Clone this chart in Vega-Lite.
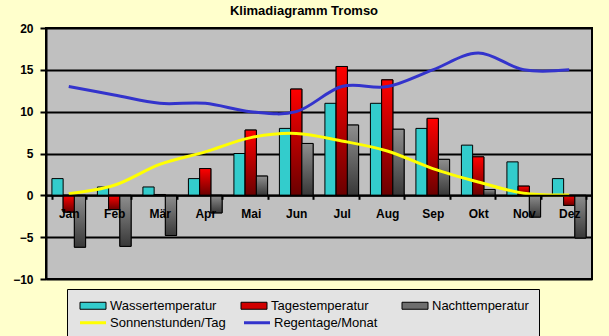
{
  "$schema": "https://vega.github.io/schema/vega-lite/v6.json",
  "width": 546,
  "height": 251,
  "autosize": "none",
  "padding": {"left": 46, "top": 28, "right": 17, "bottom": 57},
  "background": "#FFFFCC",
  "title": {"text": "Klimadiagramm Tromso", "font": "Liberation Sans", "fontSize": 13, "fontWeight": "bold", "color": "black", "anchor": "middle", "frame": "group", "offset": 4, "dx": -15},
  "config": {
    "view": {"fill": "#C0C0C0", "stroke": "black", "strokeWidth": 2}
  },
  "data": {"values": [
    {"month": "Jan", "series": "Wassertemperatur", "value": 2},
    {"month": "Feb", "series": "Wassertemperatur", "value": 1},
    {"month": "Mär", "series": "Wassertemperatur", "value": 1},
    {"month": "Apr", "series": "Wassertemperatur", "value": 2},
    {"month": "Mai", "series": "Wassertemperatur", "value": 5},
    {"month": "Jun", "series": "Wassertemperatur", "value": 8},
    {"month": "Jul", "series": "Wassertemperatur", "value": 11},
    {"month": "Aug", "series": "Wassertemperatur", "value": 11},
    {"month": "Sep", "series": "Wassertemperatur", "value": 8},
    {"month": "Okt", "series": "Wassertemperatur", "value": 6},
    {"month": "Nov", "series": "Wassertemperatur", "value": 4},
    {"month": "Dez", "series": "Wassertemperatur", "value": 2},
    {"month": "Jan", "series": "Tagestemperatur", "value": -2},
    {"month": "Feb", "series": "Tagestemperatur", "value": -1.7},
    {"month": "Mär", "series": "Tagestemperatur", "value": 0.1},
    {"month": "Apr", "series": "Tagestemperatur", "value": 3.2},
    {"month": "Mai", "series": "Tagestemperatur", "value": 7.8},
    {"month": "Jun", "series": "Tagestemperatur", "value": 12.7},
    {"month": "Jul", "series": "Tagestemperatur", "value": 15.4},
    {"month": "Aug", "series": "Tagestemperatur", "value": 13.8},
    {"month": "Sep", "series": "Tagestemperatur", "value": 9.2},
    {"month": "Okt", "series": "Tagestemperatur", "value": 4.6},
    {"month": "Nov", "series": "Tagestemperatur", "value": 1.1},
    {"month": "Dez", "series": "Tagestemperatur", "value": -1.2},
    {"month": "Jan", "series": "Nachttemperatur", "value": -6.2},
    {"month": "Feb", "series": "Nachttemperatur", "value": -6.1},
    {"month": "Mär", "series": "Nachttemperatur", "value": -4.8},
    {"month": "Apr", "series": "Nachttemperatur", "value": -2.1},
    {"month": "Mai", "series": "Nachttemperatur", "value": 2.3},
    {"month": "Jun", "series": "Nachttemperatur", "value": 6.2},
    {"month": "Jul", "series": "Nachttemperatur", "value": 8.4},
    {"month": "Aug", "series": "Nachttemperatur", "value": 7.9},
    {"month": "Sep", "series": "Nachttemperatur", "value": 4.3},
    {"month": "Okt", "series": "Nachttemperatur", "value": 0.7},
    {"month": "Nov", "series": "Nachttemperatur", "value": -2.6},
    {"month": "Dez", "series": "Nachttemperatur", "value": -5.1},
    {"month": "Jan", "series": "Sonnenstunden/Tag", "value": 0.2},
    {"month": "Feb", "series": "Sonnenstunden/Tag", "value": 1.2},
    {"month": "Mär", "series": "Sonnenstunden/Tag", "value": 3.7},
    {"month": "Apr", "series": "Sonnenstunden/Tag", "value": 5.2},
    {"month": "Mai", "series": "Sonnenstunden/Tag", "value": 6.9},
    {"month": "Jun", "series": "Sonnenstunden/Tag", "value": 7.4},
    {"month": "Jul", "series": "Sonnenstunden/Tag", "value": 6.5},
    {"month": "Aug", "series": "Sonnenstunden/Tag", "value": 5.3},
    {"month": "Sep", "series": "Sonnenstunden/Tag", "value": 3.2},
    {"month": "Okt", "series": "Sonnenstunden/Tag", "value": 1.6},
    {"month": "Nov", "series": "Sonnenstunden/Tag", "value": 0.25},
    {"month": "Dez", "series": "Sonnenstunden/Tag", "value": 0.05},
    {"month": "Jan", "series": "Regentage/Monat", "value": 13},
    {"month": "Feb", "series": "Regentage/Monat", "value": 12},
    {"month": "Mär", "series": "Regentage/Monat", "value": 11},
    {"month": "Apr", "series": "Regentage/Monat", "value": 11},
    {"month": "Mai", "series": "Regentage/Monat", "value": 10},
    {"month": "Jun", "series": "Regentage/Monat", "value": 10},
    {"month": "Jul", "series": "Regentage/Monat", "value": 13},
    {"month": "Aug", "series": "Regentage/Monat", "value": 13},
    {"month": "Sep", "series": "Regentage/Monat", "value": 15},
    {"month": "Okt", "series": "Regentage/Monat", "value": 17},
    {"month": "Nov", "series": "Regentage/Monat", "value": 15},
    {"month": "Dez", "series": "Regentage/Monat", "value": 15}
  ]},
  "layer": [
    {
      "transform": [{"filter": "indexof(['Wassertemperatur','Tagestemperatur','Nachttemperatur'], datum.series) >= 0"}],
      "mark": {"type": "bar", "stroke": "black", "strokeWidth": 1},
      "encoding": {
        "x": {"field": "month", "type": "nominal", "sort": ["Jan","Feb","Mär","Apr","Mai","Jun","Jul","Aug","Sep","Okt","Nov","Dez"],
          "scale": {"paddingInner": 0.26, "paddingOuter": 0.13},
          "axis": {"title": null, "orient": "bottom", "offset": -83.7, "labelAngle": 0, "labelFont": "Liberation Sans", "labelFontSize": 12, "labelFontWeight": "bold", "labelColor": "black", "labelPadding": 9, "tickBand": "extent", "tickSize": 4, "tickColor": "black", "tickWidth": 2, "domainColor": "black", "domainWidth": 2, "grid": false, "zindex": 1}},
        "xOffset": {"field": "series", "type": "nominal", "sort": ["Wassertemperatur","Tagestemperatur","Nachttemperatur"], "scale": {"paddingInner": 0, "paddingOuter": 0}},
        "y": {"field": "value", "type": "quantitative", "scale": {"domain": [-10, 20], "nice": false, "zero": false},
          "axis": {"title": null, "values": [-10, -5, 0, 5, 10, 15, 20], "labelFlush": false, "labelOverlap": false,
            "labelFont": "Liberation Sans", "labelFontSize": 12, "labelFontWeight": "bold", "labelColor": "black", "labelPadding": 7,
            "tickColor": "black", "tickWidth": 2, "tickSize": 6, "domainColor": "black", "domainWidth": 2, "grid": true, "gridColor": "black", "gridWidth": 2, "gridOpacity": 1}},
        "color": {"field": "series", "type": "nominal",
          "scale": {"domain": ["Wassertemperatur","Tagestemperatur","Nachttemperatur"],
            "range": ["#33CCCC", "#D00000", "#6E6E6E"]},
          "legend": {"orient": "none", "legendX": 21, "legendY": 261, "columns": 3, "direction": "horizontal",
            "title": " ", "titleOrient": "bottom", "titleFontSize": 13, "titlePadding": 2,
            "fillColor": "#E3E3E3", "strokeColor": "black", "padding": 10, "gridAlign": "all", "columnPadding": 21, "rowPadding": 4,
            "labelFont": "Liberation Sans", "labelFontSize": 13, "labelColor": "black", "labelOffset": 20,
            "symbolType": "M-1,-1H6.43V1H-1Z", "symbolSize": 49, "symbolStrokeColor": "black", "symbolStrokeWidth": 1, "symbolOpacity": 1}}
      }
    },
    {
      "transform": [{"filter": "datum.series === 'Tagestemperatur'"}],
      "mark": {"type": "bar", "stroke": "black", "strokeWidth": 1,
        "fill": {"gradient": "linear", "x1": 0, "y1": 0, "x2": 0, "y2": 1, "stops": [{"offset": 0, "color": "#FF0000"}, {"offset": 1, "color": "#6A0000"}]}},
      "encoding": {
        "x": {"field": "month", "type": "nominal", "sort": ["Jan","Feb","Mär","Apr","Mai","Jun","Jul","Aug","Sep","Okt","Nov","Dez"]},
        "xOffset": {"field": "series", "type": "nominal", "sort": ["Wassertemperatur","Tagestemperatur","Nachttemperatur"]},
        "y": {"field": "value", "type": "quantitative"}
      }
    },
    {
      "transform": [{"filter": "datum.series === 'Nachttemperatur'"}],
      "mark": {"type": "bar", "stroke": "black", "strokeWidth": 1,
        "fill": {"gradient": "linear", "x1": 0, "y1": 0, "x2": 0, "y2": 1, "stops": [{"offset": 0, "color": "#8E8E8E"}, {"offset": 1, "color": "#383838"}]}},
      "encoding": {
        "x": {"field": "month", "type": "nominal", "sort": ["Jan","Feb","Mär","Apr","Mai","Jun","Jul","Aug","Sep","Okt","Nov","Dez"]},
        "xOffset": {"field": "series", "type": "nominal", "sort": ["Wassertemperatur","Tagestemperatur","Nachttemperatur"]},
        "y": {"field": "value", "type": "quantitative"}
      }
    },
    {
      "transform": [{"filter": "indexof(['Sonnenstunden/Tag','Regentage/Monat'], datum.series) >= 0"}],
      "mark": {"type": "line", "strokeWidth": 3, "interpolate": "cardinal"},
      "encoding": {
        "x": {"field": "month", "type": "nominal", "sort": ["Jan","Feb","Mär","Apr","Mai","Jun","Jul","Aug","Sep","Okt","Nov","Dez"]},
        "y": {"field": "value", "type": "quantitative"},
        "stroke": {"field": "series", "type": "nominal",
          "scale": {"domain": ["Sonnenstunden/Tag","Regentage/Monat"], "range": ["#FFFF00", "#3333CC"]},
          "legend": {"orient": "none", "legendX": 31, "legendY": 288, "columns": 2, "direction": "horizontal", "title": null,
            "padding": 0, "gridAlign": "all", "columnPadding": 12, "zindex": 2,
            "labelFont": "Liberation Sans", "labelFontSize": 13, "labelColor": "black", "labelOffset": 20,
            "symbolType": "M-1,0H6.43", "symbolSize": 49, "symbolStrokeWidth": 3, "symbolOpacity": 1}}
      }
    }
  ]
}
